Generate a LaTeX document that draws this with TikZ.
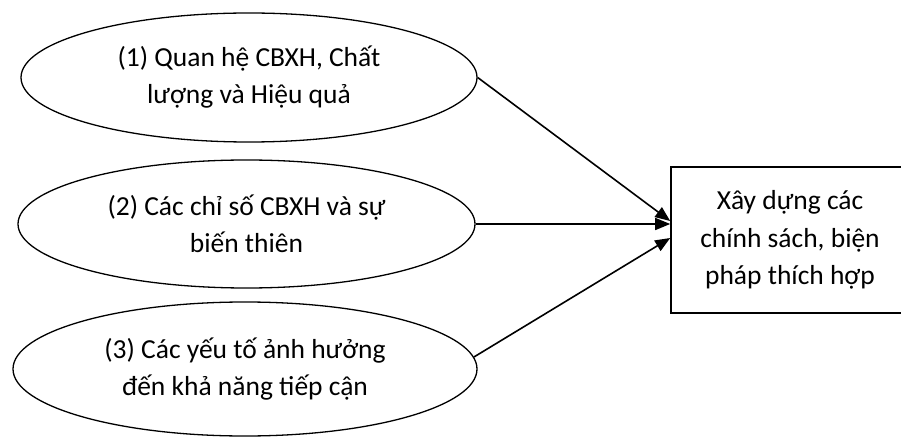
\documentclass[tikz,border=0pt]{standalone}
\usepackage{fontspec}
\setmainfont{Carlito}
\usetikzlibrary{shapes.geometric,arrows.meta}
\tikzset{
  oval/.style={ellipse,draw=black,line width=1.3pt,inner sep=0pt,align=center,
    font=\fontsize{27.5}{37}\selectfont},
  goalbox/.style={rectangle,draw=black,line width=1.6pt,inner sep=0pt,align=center,
    minimum width=238pt,minimum height=146pt,font=\fontsize{27.5}{37.5}\selectfont},
  link/.style={line width=1.6pt,-{Triangle[length=15pt,width=12pt]}}
}
\begin{document}
\begin{tikzpicture}[x=1pt,y=-1pt]
\useasboundingbox (0,0) rectangle (901,438);
\clip (0,0) rectangle (901,438);
\fill[white] (0,0) rectangle (901,438);
\node[oval,minimum width=456pt,minimum height=129pt] (e1) at (249,77.5)
  {(1) Quan hệ CBXH, Chất\\lượng và Hiệu quả};
\node[oval,minimum width=457pt,minimum height=128pt] (e2) at (246.5,224)
  {(2) Các chỉ số CBXH và sự\\biến thiên};
\node[oval,minimum width=464pt,minimum height=134pt] (e3) at (245,369)
  {(3) Các yếu tố ảnh hưởng\\đến khả năng tiếp cận};
\node[goalbox] (box) at (790,240)
  {Xây dựng các\\chính sách, biện\\pháp thích hợp};
\coordinate (t1) at ([yshift=19pt]box.west);
\coordinate (t2) at ([yshift=16pt]box.west);
\coordinate (t3) at ([yshift=2pt]box.west);
\draw[link] (e1.east) -- (t1);
\draw[link] (e2.east) -- (t2);
\draw[link] (e3.3) -- (t3);
\end{tikzpicture}
\end{document}
